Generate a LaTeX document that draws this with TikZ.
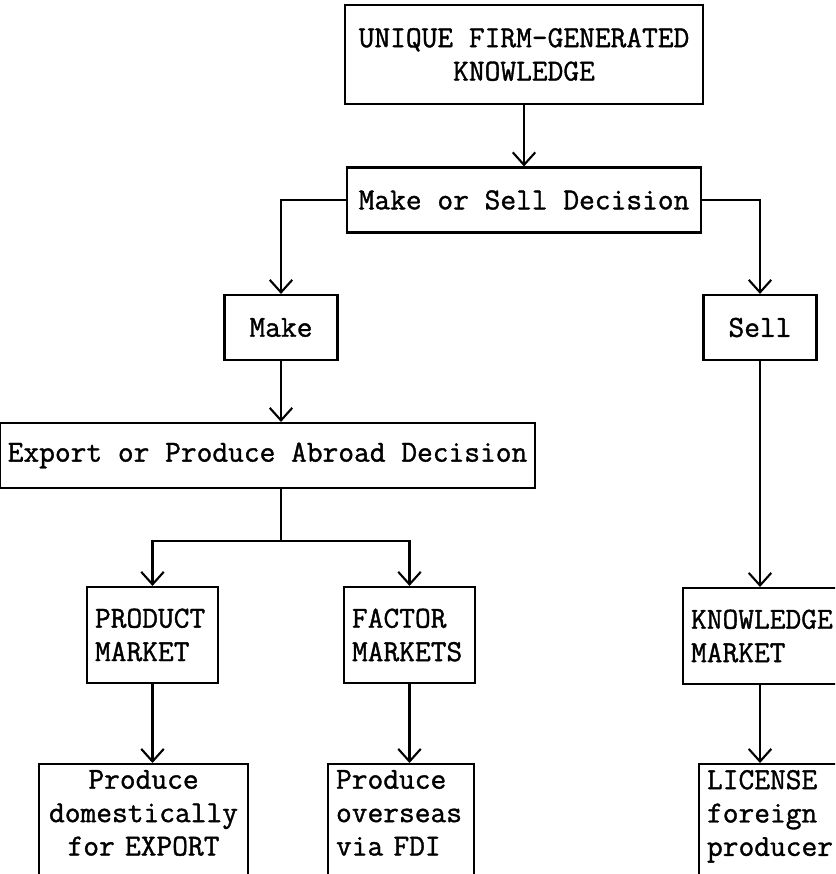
\documentclass[tikz,border=0pt]{standalone}
\usepackage{fontspec}
\newfontfamily\typewriter{lmmono12-regular.otf}[FakeBold=1.2]
\usepackage{tikz}
\usetikzlibrary{positioning, arrows.meta, calc}

\begin{document}
\begin{tikzpicture}[x=0.02cm, y=-0.02cm,
    font=\typewriter\fontsize{17.4}{19}\selectfont,
    boxnode/.style={draw, line width=1.2pt, inner sep=0.16cm},
    flow/.style={line width=1.2pt, -{Straight Barb[length=2.5mm, width=4.5mm]}}]
  \clip (0,0) rectangle (835,874);

  % Nodes
  \node[boxnode, minimum width=7.16cm, minimum height=1.98cm, align=center] (firm) at (524,54.5) {UNIQUE FIRM-GENERATED\\KNOWLEDGE};
  \node[boxnode, minimum width=7.08cm, minimum height=1.3cm] (decide) at (524,200) {Make or Sell Decision};
  \node[boxnode, minimum width=2.26cm, minimum height=1.3cm] (make) at (281,327.5) {Make};
  \node[boxnode, minimum width=2.26cm, minimum height=1.3cm] (sell) at (760,327.5) {Sell};
  \node[boxnode, minimum width=10.38cm, minimum height=1.3cm] (export) at (267.5,455.5) {Export or Produce Abroad Decision};
  \node[boxnode, text width=2.3cm, inner xsep=0.16cm, minimum height=1.92cm, align=left] (prodmkt) at (152.5,635) {PRODUCT\\MARKET};
  \node[boxnode, text width=2.3cm, inner xsep=0.16cm, minimum height=1.92cm, align=left] (factmkt) at (409.5,635) {FACTOR\\MARKETS};
  \node[boxnode, anchor=north west, text width=3.5cm, minimum height=1.92cm, align=left] (knowmkt) at (682,587) {KNOWLEDGE\\MARKET};
  \node[boxnode, anchor=north west, text width=3.9cm, inner xsep=0.14cm, inner ysep=0.12cm, text depth=3cm, align=center] (domestic) at (38,763) {Produce\\domestically\\for EXPORT};
  \node[boxnode, anchor=north west, text width=2.6cm, inner xsep=0.16cm, inner ysep=0.12cm, text depth=3cm, align=left] (fdi) at (327,763) {Produce\\overseas\\via FDI};
  \node[boxnode, anchor=north west, text width=3.5cm, inner ysep=0.12cm, text depth=3cm, align=left] (license) at (698,763) {LICENSE\\foreign\\producer};
  \coordinate (split) at ($(export.south -| make)+(0,52)$);

  % Arrows
  \draw[flow] (firm) -- (decide);
  \draw[flow] (decide.west) -| (make.north);
  \draw[flow] (decide.east) -| (sell.north);
  \draw[flow] (make) -- (make |- export.north);
  \draw[line width=1.2pt] (export.south -| make) -- (split);
  \foreach \m in {prodmkt,factmkt}
  \draw[flow] (split) -| (\m.north);
  \draw[flow] (prodmkt) -- (prodmkt |- domestic.north);
  \draw[flow] (factmkt) -- (factmkt |- fdi.north);
  \draw[flow] (sell) -- (sell |- knowmkt.north);
  \draw[flow] (knowmkt.south -| sell) -- (sell |- license.north);
\end{tikzpicture}
\end{document}
